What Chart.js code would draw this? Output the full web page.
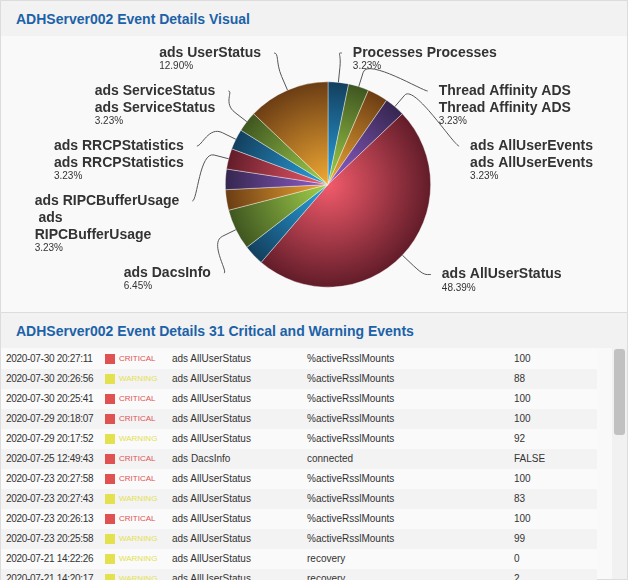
<!DOCTYPE html>
<html lang="en">
<head>
    <meta charset="UTF-8">
    <title>ADHServer002 Event Details</title>
    <script src="https://cdn.jsdelivr.net/npm/chart.js"></script>
    <style>
        body {
            margin: 0;
            width: 628px;
            height: 580px;
            overflow: hidden;
            background: #ffffff;
            font-family: "Liberation Sans", Arial, sans-serif;
            position: relative;
        }
        .panel {
            position: absolute;
            left: 0;
            width: 626px;
            border: 1px solid #dcdcdc;
            background: #f9f9f9;
        }
        .panel-head {
            height: 35px;
            background: #f2f2f2;
            color: #1c62a8;
            font-weight: bold;
            font-size: 14px;
            line-height: 36px;
            padding-left: 15px;
        }
        #visual { top: 0; height: 311px; }
        #events { top: 312px; height: 266px; }
        #pie-box {
            position: absolute;
            left: -1px;
            top: 36px;
            width: 628px;
            height: 275px;
        }
        #rows {
            position: absolute;
            left: 0;
            top: 36px;
            width: 596px;
            height: 231px;
            overflow: hidden;
        }
        .row {
            position: relative;
            height: 20px;
            font-size: 10px;
            color: #333;
            line-height: 20px;
        }
        .row:nth-child(odd) { background: #fafafa; }
        .row:nth-child(even) { background: #f3f3f3; }
        .row span { position: absolute; top: 0; white-space: nowrap; }
        .c-time { left: 5px; letter-spacing: -0.3px; }
        .c-box { left: 104px; top: 5px !important; width: 10px; height: 10px; }
        .c-sev { left: 118px; font-size: 8px; }
        .c-comp { left: 171px; }
        .c-metric { left: 306px; }
        .c-val { left: 513px; }
        #track {
            position: absolute;
            left: 611px;
            top: 35px;
            width: 15px;
            height: 231px;
            background: #f1f1f1;
        }
        #thumb {
            position: absolute;
            left: 2px;
            top: 1px;
            width: 11px;
            height: 86px;
            border-radius: 3px;
            background: #c1c1c1;
        }
    </style>
</head>
<body>
    <div class="panel" id="visual">
        <div class="panel-head">ADHServer002 Event Details Visual</div>
        <div id="pie-box"><canvas id="pie"></canvas></div>
    </div>
    <div class="panel" id="events">
        <div class="panel-head">ADHServer002 Event Details 31 Critical and Warning Events</div>
        <div id="rows"></div>
        <div id="track"><div id="thumb"></div></div>
    </div>

    <script>
        // Pie: event counts per monitor (31 events in total)
        const sliceLabels = [
            ['Processes Processes'],
            ['Thread Affinity ADS', 'Thread Affinity ADS'],
            ['ads AllServices'],
            ['ads AllUserEvents', 'ads AllUserEvents'],
            ['ads AllUserStatus'],
            ['ads CacheStatus'],
            ['ads DacsInfo'],
            ['ads MemoryUsage'],
            ['ads Processes'],
            ['ads RIPCBufferUsage', ' ads', 'RIPCBufferUsage'],
            ['ads RRCPStatistics', 'ads RRCPStatistics'],
            ['ads ServiceStatus', 'ads ServiceStatus'],
            ['ads UserStatus']
        ];
        const sliceCounts = [1, 1, 1, 1, 15, 1, 2, 1, 1, 1, 1, 1, 4];

        // Table rows
        const eventTimes = [
            '2020-07-30 20:27:11', '2020-07-30 20:26:56', '2020-07-30 20:25:41', '2020-07-29 20:18:07',
            '2020-07-29 20:17:52', '2020-07-25 12:49:43', '2020-07-23 20:27:58', '2020-07-23 20:27:43',
            '2020-07-23 20:26:13', '2020-07-23 20:25:58', '2020-07-21 14:22:26', '2020-07-21 14:20:17'
        ];
        const eventSeverity = ['CRITICAL', 'WARNING', 'CRITICAL', 'CRITICAL', 'WARNING', 'CRITICAL',
            'CRITICAL', 'WARNING', 'CRITICAL', 'WARNING', 'WARNING', 'WARNING'];
        const eventComponent = ['ads AllUserStatus', 'ads AllUserStatus', 'ads AllUserStatus', 'ads AllUserStatus',
            'ads AllUserStatus', 'ads DacsInfo', 'ads AllUserStatus', 'ads AllUserStatus', 'ads AllUserStatus',
            'ads AllUserStatus', 'ads AllUserStatus', 'ads AllUserStatus'];
        const eventMetric = ['%activeRsslMounts', '%activeRsslMounts', '%activeRsslMounts', '%activeRsslMounts',
            '%activeRsslMounts', 'connected', '%activeRsslMounts', '%activeRsslMounts', '%activeRsslMounts',
            '%activeRsslMounts', 'recovery', 'recovery'];
        const eventValue = ['100', '88', '100', '100', '92', 'FALSE', '100', '83', '100', '99', '0', '2'];

        const severityColor = { CRITICAL: '#e05252', WARNING: '#e3e14e' };

        const rows = document.getElementById('rows');
        eventTimes.forEach((t, i) => {
            const row = document.createElement('div');
            row.className = 'row';
            const col = severityColor[eventSeverity[i]];
            row.innerHTML =
                `<span class="c-time">${t}</span>` +
                `<span class="c-box" style="background:${col}"></span>` +
                `<span class="c-sev" style="color:${col}">${eventSeverity[i]}</span>` +
                `<span class="c-comp">${eventComponent[i]}</span>` +
                `<span class="c-metric">${eventMetric[i]}</span>` +
                `<span class="c-val">${eventValue[i]}</span>`;
            rows.appendChild(row);
        });

        // light centre -> dark rim, cycling blue, green, orange, purple, red
        const palette = [
            ['#2aa3e2', '#133f5d'],
            ['#a3d24c', '#3f5620'],
            ['#f2aa34', '#6b3d14'],
            ['#9060cc', '#35264f'],
            ['#f25b6b', '#621c29']
        ];

        function sliceFill(context) {
            const chart = context.chart;
            const pair = palette[context.dataIndex % palette.length];
            const area = chart.chartArea;
            if (!area) return pair[0];
            const x = (area.left + area.right) / 2;
            const y = (area.top + area.bottom) / 2;
            const r = Math.min(area.right - area.left, area.bottom - area.top) / 2;
            const g = chart.ctx.createRadialGradient(x, y, 0, x, y, r);
            g.addColorStop(0, pair[0]);
            g.addColorStop(1, pair[1]);
            return g;
        }

        // spread label boxes on one side so they do not overlap
        function placeGroup(g, minTop, maxBottom, gap) {
            let off = 0, sum = 0;
            g.items.forEach(b => { sum += b.target - off; off += b.height + gap; });
            g.pos = Math.max(Math.min(sum / g.items.length, maxBottom - g.size), minTop);
        }

        function distribute(boxes, minTop, maxBottom, gap) {
            const groups = boxes.map(b => ({ items: [b], size: b.height + gap }));
            groups.forEach(g => placeGroup(g, minTop, maxBottom, gap));
            let merged = true;
            while (merged) {
                merged = false;
                for (let k = 0; k < groups.length - 1; k++) {
                    if (groups[k].pos + groups[k].size > groups[k + 1].pos) {
                        groups[k].items = groups[k].items.concat(groups[k + 1].items);
                        groups[k].size += groups[k + 1].size;
                        groups.splice(k + 1, 1);
                        placeGroup(groups[k], minTop, maxBottom, gap);
                        merged = true;
                        break;
                    }
                }
            }
            groups.forEach(g => {
                let y = g.pos;
                g.items.forEach(b => {
                    b.top = y;
                    b.atEdge = y < minTop + 2;
                    y += b.height + gap;
                });
            });
        }

        const outerLabels = {
            id: 'outerLabels',
            afterDatasetsDraw(chart, args, opts) {
                const arcs = chart.getDatasetMeta(0).data;
                if (!arcs.length) return;
                const values = chart.data.datasets[0].data;
                const total = values.reduce((a, b) => a + b, 0);
                const cx = arcs[0].x, cy = arcs[0].y, r = arcs[0].outerRadius;
                const R2 = r + opts.distance;
                const lh = opts.lineHeight;
                const items = [];

                arcs.forEach((arc, i) => {
                    if (opts.hidden.includes(i)) return;
                    const a = (arc.startAngle + arc.endAngle) / 2;
                    const lines = chart.data.labels[i];
                    const naturalY = cy + Math.sin(a) * R2;
                    items.push({
                        i, a, lines, naturalY,
                        height: lh * lines.length + opts.pctHeight,
                        left: Math.cos(a) < 0,
                        target: naturalY - lh / 2
                    });
                });

                [true, false].forEach(side => {
                    const boxes = items.filter(b => b.left === side).sort((p, q) => p.target - q.target);
                    distribute(boxes, opts.top, chart.height - opts.bottom, opts.gap);
                });

                const ctx = chart.ctx;
                ctx.save();
                items.forEach(b => {
                    const dir = b.left ? -1 : 1;
                    const ey = b.top + lh / 2;
                    const yForX = b.atEdge ? b.naturalY : ey;
                    const s = Math.max(-1, Math.min(1, (yForX - cy) / R2));
                    const ex = cx + dir * Math.cos(Math.asin(s)) * R2;

                    // connector
                    const tx = cx + Math.cos(b.a) * r, ty = cy + Math.sin(b.a) * r;
                    const bx = cx + Math.cos(b.a) * (r + 15), by = cy + Math.sin(b.a) * (r + 15);
                    ctx.beginPath();
                    ctx.moveTo(ex, ey);
                    ctx.bezierCurveTo(ex - dir * 5, ey, 2 * bx - tx, 2 * by - ty, bx, by);
                    ctx.lineTo(tx, ty);
                    ctx.strokeStyle = '#555';
                    ctx.lineWidth = 1;
                    ctx.stroke();

                    // text block
                    ctx.font = 'bold 14px "Liberation Sans", Arial, sans-serif';
                    const widths = b.lines.map(l => ctx.measureText(l).width);
                    const blockW = Math.max(...widths);
                    const x0 = b.left ? ex - 13 - blockW : ex + 11;
                    ctx.fillStyle = '#333333';
                    ctx.textAlign = 'left';
                    ctx.textBaseline = 'middle';
                    b.lines.forEach((l, k) => ctx.fillText(l, x0, ey + k * lh));
                    ctx.font = '10px "Liberation Sans", Arial, sans-serif';
                    const pct = (values[b.i] / total * 100).toFixed(2) + '%';
                    ctx.fillText(pct, x0, ey + (b.lines.length - 1) * lh + 13.5);
                });
                ctx.restore();
            }
        };

        new Chart(document.getElementById('pie').getContext('2d'), {
            type: 'pie',
            data: {
                labels: sliceLabels,
                datasets: [{
                    data: sliceCounts,
                    backgroundColor: sliceFill,
                    borderColor: 'rgba(255,255,255,0.55)',
                    borderWidth: 0.7,
                    hoverOffset: 0
                }]
            },
            options: {
                responsive: true,
                maintainAspectRatio: false,
                animation: false,
                layout: {
                    padding: { left: 225, right: 197, top: 44.5, bottom: 24.5 }
                },
                plugins: {
                    legend: { display: false },
                    tooltip: {
                        callbacks: {
                            label: item => `${item.raw} events`
                        }
                    },
                    outerLabels: {
                        hidden: [2, 5, 7, 8],
                        distance: 34,
                        lineHeight: 17,
                        pctHeight: 13,
                        gap: 8,
                        top: 7.5,
                        bottom: 8
                    }
                }
            },
            plugins: [outerLabels]
        });
    </script>
</body>
</html>
